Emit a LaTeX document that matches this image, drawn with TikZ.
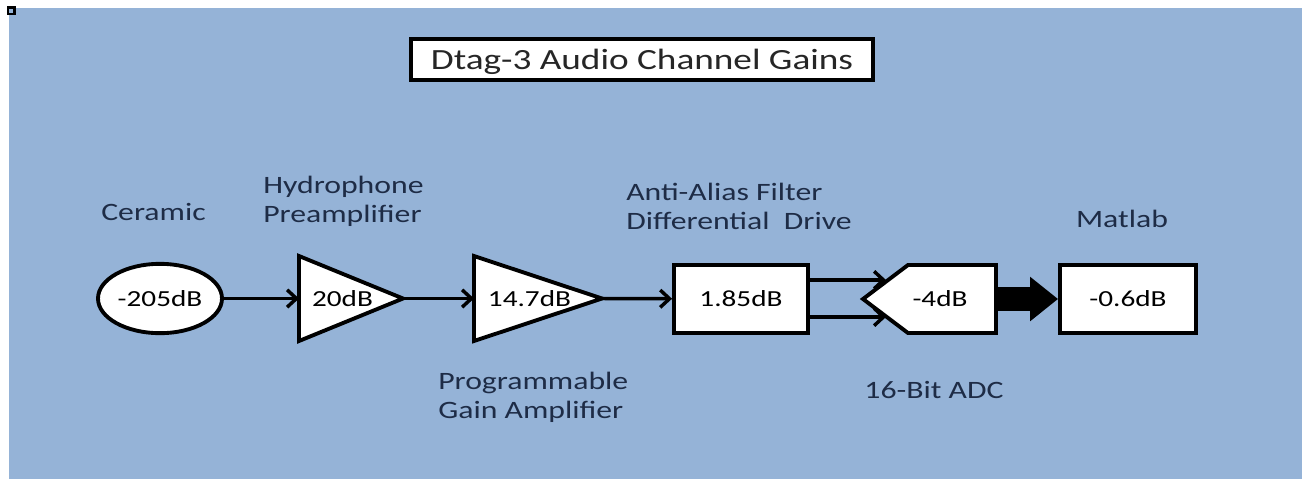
\documentclass[tikz,border=0pt]{standalone}
\usepackage{fontspec}
\setmainfont{Carlito}[FakeStretch=1.27]
\usetikzlibrary{arrows.meta,shapes.geometric}
\definecolor{slidebg}{RGB}{149,179,215}
\definecolor{labelink}{RGB}{30,44,70}
\tikzset{
  block/.style={draw=black, line width=2.9pt, fill=white},
  gainbox/.style={block, rectangle, minimum width=101.25pt, minimum height=51.75pt,
    inner sep=0pt, font=\fontsize{17.25}{20}\selectfont},
  gaintext/.style={inner sep=0pt, font=\fontsize{17.25}{20}\selectfont},
  sig/.style={line width=2.6pt, -{Straight Barb[length=7pt,width=13pt]}},
  bus/.style={line width=18pt, -{Triangle[length=21pt,width=32pt]}},
  stagelabel/.style={text=labelink, inner sep=0pt, align=left,
    font=\fontsize{18.75}{21.4}\selectfont},
}
\begin{document}
\begin{tikzpicture}[x=0.75pt,y=-0.75pt]
  \useasboundingbox (0,0) rectangle (1302,479);
  \fill[white] (0,0) rectangle (1302,479);
  \fill[slidebg] (9,8) rectangle (1302,479);
  \draw[line width=1.9pt, fill=slidebg] (8,7.5) rectangle (14.5,14);
  % title
  \node[block, minimum width=346pt, minimum height=31pt, inner sep=0pt, text depth=0pt,
    text=black!85, font=\fontsize{22}{26}\selectfont] (title) at (642,59.5)
    {Dtag-3 Audio Channel Gains};
  % stages
  \node[block, ellipse, minimum width=93pt, minimum height=52pt, inner sep=0pt,
    font=\fontsize{17.25}{20}\selectfont] (ceramic) at (160,298.5) {-205dB};
  \coordinate (pre-in) at (299,298.5);
  \coordinate (pre-out) at (403,298.5);
  \draw[block] (299,256) -- (pre-out) -- (299,341) -- cycle;
  \node[gaintext] (pre) at (342.5,298.5) {20dB};
  \coordinate (pga-in) at (474,298.5);
  \coordinate (pga-out) at (602,298.5);
  \draw[block] (474,256) -- (pga-out) -- (474,341) -- cycle;
  \node[gaintext] (pga) at (529.5,298.5) {14.7dB};
  \node[gainbox, minimum width=100.5pt, minimum height=51pt] (aaf) at (741,299) {1.85dB};
  \coordinate (adc-tip) at (863,299);
  \coordinate (adc-hi) at (886,280);
  \coordinate (adc-lo) at (886,317);
  \coordinate (adc-out) at (996,299);
  \draw[block] (adc-tip) -- (908,265) -- (996,265) -- (996,333)
    -- (908,333) -- cycle;
  \node[gaintext] (adc) at (940,299) {-4dB};
  \node[gainbox, minimum width=102pt, minimum height=51pt] (matlab) at (1128,299) {-0.6dB};
  % connectors
  \draw[sig] (ceramic) -- (pre-in);
  \draw[sig] (pre-out) -- (pga-in);
  \draw[sig] (pga-out) -- (aaf);
  \draw[sig] (aaf.east |- adc-hi) -- (adc-hi);
  \draw[sig] (aaf.east |- adc-lo) -- (adc-lo);
  \draw[bus] (adc-out) -- (matlab);
  % labels
  \node[stagelabel, anchor=base] (ceramic-lbl) at (153.5,220) {Ceramic};
  \node[stagelabel, anchor=base west] (pre-lbl) at (263,222) {Hydrophone\\Preamplifier};
  \node[stagelabel, anchor=base west] (aaf-lbl) at (626,229)
    {Anti-Alias Filter\\Differential\ \ Drive};
  \node[stagelabel, anchor=base] (matlab-lbl) at (1122,227) {Matlab};
  \node[stagelabel, anchor=base west] (pga-lbl) at (438,418) {Programmable\\Gain Amplifier};
  \node[stagelabel, anchor=base] (adc-lbl) at (934,398) {16-Bit ADC};
\end{tikzpicture}
\end{document}
